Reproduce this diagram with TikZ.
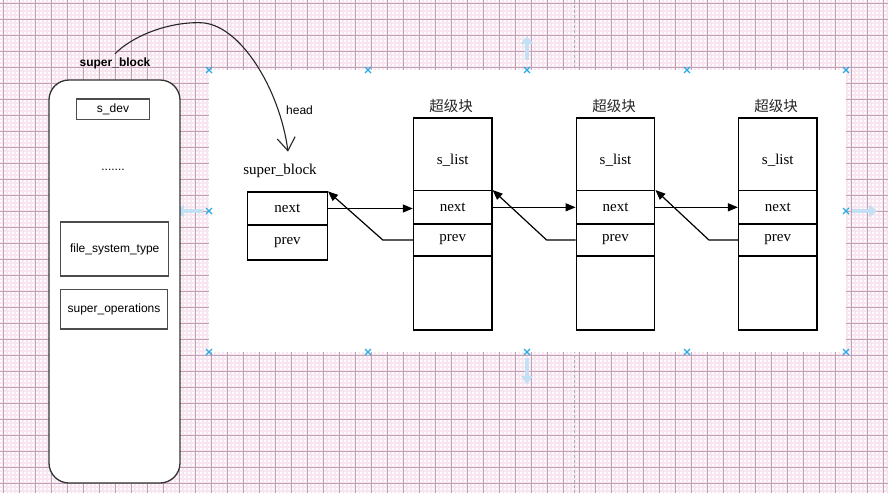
\documentclass[tikz,border=0pt]{standalone}
\usepackage{fontspec}
\setmainfont{Liberation Serif}
\newfontfamily\arialf{Liberation Sans}
\newfontfamily\cjk{Noto Sans CJK SC}
\usetikzlibrary{arrows.meta}
\definecolor{gridmin}{RGB}{247,229,240}
\definecolor{gridmaj}{RGB}{196,160,184}
\definecolor{selblue}{RGB}{41,171,226}
\definecolor{hintblue}{RGB}{196,224,244}
\definecolor{pagegrey}{RGB}{175,175,175}
\begin{document}
\begin{tikzpicture}[x=1pt,y=-1pt,
  sanstxt/.style={font=\arialf\fontsize{12}{14}\selectfont},
  sbtitle/.style={font=\arialf\bfseries\fontsize{12}{14}\selectfont},
  field/.style={draw=black!70,line width=1.4pt,inner sep=0pt,sanstxt},
  panelbox/.style={draw=black!80,line width=1.3pt,rounded corners=20pt,inner sep=0pt,fill=white},
  cell/.style={draw,line width=1.3pt,minimum width=78.5pt,inner sep=0pt,
    font=\fontsize{15}{17}\selectfont},
  listcell/.style={cell,minimum height=72.7pt,text height=22pt,text depth=2pt},
  nextcell/.style={cell,minimum height=33.3pt},
  prevcell/.style={cell,minimum height=32pt},
  restcell/.style={cell,minimum height=74pt},
  cjktitle/.style={font=\cjk\fontsize{14.5}{16}\selectfont,text=black!85},
  serifttl/.style={font=\fontsize{15}{17}\selectfont},
  arr/.style={line width=1.2pt,-{Triangle[length=10pt,width=8pt]}},
  curvearr/.style={line width=1.1pt,black!85,-{Straight Barb[length=13pt,width=18pt]}},
  marker/.style={selblue,line width=1.1pt},
  hint/.style={hintblue,line width=4.5pt,-{Triangle[length=8pt,width=12pt]}}
]
\useasboundingbox (0,0) rectangle (888,493);
\fill[white] (0,0) rectangle (888,493);
% grid
\foreach \i in {3,7,...,887} \draw[gridmin,line width=1.6pt] (\i,0) -- (\i,493);
\foreach \j in {3,7,...,491} \draw[gridmin,line width=1.6pt] (0,\j) -- (888,\j);
\foreach \i in {3,19,...,883} \draw[gridmaj,line width=0.9pt] (\i,0) -- (\i,493);
\foreach \j in {3,19,...,483} \draw[gridmaj,line width=0.9pt] (0,\j) -- (888,\j);
\draw[pagegrey,line width=0.8pt,dash pattern=on 3pt off 2pt] (574.5,0) -- (574.5,493);
% white canvas
\fill[white] (209,70) rectangle (846,352);
% selection markers
\foreach \mx/\my in {209/70,368/70,527/70,687/70,846/70,209/211,846/211,209/352,368/352,527/352,687/352,846/352}{
  \draw[marker] (\mx-3,\my-3) -- (\mx+3,\my+3);
  \draw[marker] (\mx-3,\my+3) -- (\mx+3,\my-3);
}
\draw[hint] (527,60) -- (527,36);
\draw[hint] (527,358) -- (527,384);
\draw[hint] (203,211) -- (176,211);
\draw[hint] (852,211) -- (877,211);
% left panel
\node[sbtitle] (sbt) at (115,63) {super\_block};
\node[panelbox,minimum width=131pt,minimum height=403pt] (panel) at (114.5,281.5) {};
\node[field,minimum width=72.5pt,minimum height=20.5pt] (sdev) at (113,109.2) {s\_dev};
\node[sanstxt] (dots) at (113,169.5) {.......};
\node[field,minimum width=108pt,minimum height=54pt] (fst) at (114.7,249) {file\_system\_type};
\node[field,minimum width=106.6pt,minimum height=39.7pt] (sops) at (114,309.2) {super\_operations};
% head list
\node[serifttl] (sbs) at (280,171) {super\_block};
\node[cell,minimum width=79.8pt,minimum height=33pt] (lbnext) at (287.4,208.5) {next};
\node[cell,minimum width=79.8pt,minimum height=35pt] (lbprev) at (287.4,242.5) {prev};
\node[sanstxt] (head) at (299.5,110.5) {head};
% super blocks
\foreach \k/\cx/\tx in {1/452.7/451,2/615.5/614,3/777.8/776}{
  \node[cjktitle] (t\k) at (\tx,106) {超级块};
  \node[listcell] (n\k list) at (\cx,154.3) {s\_list};
  \node[nextcell] (n\k next) at (\cx,207.3) {next};
  \node[prevcell] (n\k prev) at (\cx,240) {prev};
  \node[restcell] (n\k rest) at (\cx,293) {};
}
% connectors
\draw[arr] (lbnext.east) -- (lbnext.east -| n1next.west);
\draw[arr] (n1next.east) -- (n2next.west);
\draw[arr] (n2next.east) -- (n3next.west);
\draw[arr] (n1prev.west) -- ++(-30,0) -- (lbnext.north east);
\draw[arr] (n2prev.west) -- ++(-29,0) -- (n1next.north east);
\draw[arr] (n3prev.west) -- ++(-29,0) -- (n2next.north east);
\draw[curvearr] (sbt.north) .. controls (130,38) and (165,22) .. (200,22.7)
  .. controls (240,23) and (280,90) .. ([xshift=8pt,yshift=9pt]sbs.north);
\end{tikzpicture}
\end{document}
